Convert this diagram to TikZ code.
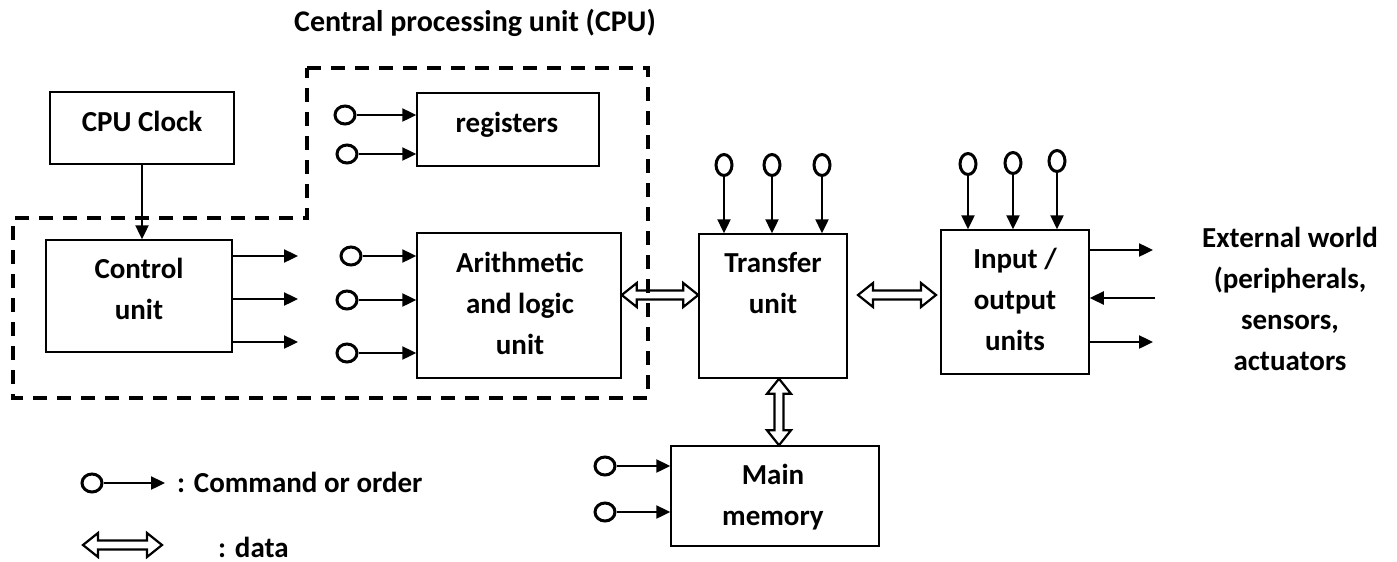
\documentclass[tikz,border=0pt]{standalone}
\usepackage{fontspec}
\setmainfont{Carlito}
\usetikzlibrary{arrows.meta,calc,shapes.geometric}

% hollow double-headed data arrow, horizontal: #1 left tip, #2 right tip (same height as #1)
\newcommand\hdata[2]{\draw[datalink] let \p1=#1, \p2=#2 in
  (\x1,\y1) -- (\x1+15pt,\y1+12pt) -- (\x1+15pt,\y1+4.5pt) -- (\x2-15pt,\y1+4.5pt)
  -- (\x2-15pt,\y1+12pt) -- (\x2,\y1) -- (\x2-15pt,\y1-12pt) -- (\x2-15pt,\y1-4.5pt)
  -- (\x1+15pt,\y1-4.5pt) -- (\x1+15pt,\y1-12pt) -- cycle;}
% same, vertical: #1 top tip, #2 bottom tip
\newcommand\vdata[2]{\draw[datalink] let \p1=#1, \p2=#2 in
  (\x1,\y1) -- (\x1+12pt,\y1-15pt) -- (\x1+4.5pt,\y1-15pt) -- (\x1+4.5pt,\y2+15pt)
  -- (\x1+12pt,\y2+15pt) -- (\x1,\y2) -- (\x1-12pt,\y2+15pt) -- (\x1-4.5pt,\y2+15pt)
  -- (\x1-4.5pt,\y1-15pt) -- (\x1-12pt,\y1-15pt) -- cycle;}

\tikzset{
  unitbox/.style={draw, line width=1.5pt, inner sep=0pt},
  % multi-line labels sit on the baseline of their last line
  lbl/.style={font=\bfseries\fontsize{29}{41}\selectfont, align=center, anchor=base, inner sep=0pt},
  ring/.style={draw, ellipse, line width=3pt, inner sep=0pt, minimum width=20pt, minimum height=18pt},
  vring/.style={ring, minimum width=16pt, minimum height=21pt},
  cmd/.style={line width=2.4pt, -{Triangle[length=14pt,width=13pt]}},
  datalink/.style={line width=2.2pt, line join=miter},
  cpuframe/.style={line width=3.5pt, dash pattern=on 14pt off 10pt},
}

\begin{document}
\begin{tikzpicture}[x=1pt,y=-1pt]
\useasboundingbox (0,0) rectangle (1397,562);

% CPU outline
\draw[cpuframe] (307,68) -- (648,68) -- (648,398) -- (13,398) -- (13,218) -- (307,218) -- cycle;
\node[lbl, font=\bfseries\fontsize{30}{41}\selectfont] (cputitle) at (475,31) {Central processing unit (CPU)};

% functional units
\node[unitbox, minimum width=184pt, minimum height=72pt]  (clock) at (142,128) {};
\node[unitbox, minimum width=186pt, minimum height=112pt] (ctrl)  at (139,296) {};
\node[unitbox, minimum width=182pt, minimum height=73pt]  (regs)  at (508,129.5) {};
\node[unitbox, minimum width=204pt, minimum height=145pt] (alu)   at (519,305.5) {};
\node[unitbox, minimum width=148pt, minimum height=144pt] (tu)    at (773,306) {};
\node[unitbox, minimum width=148pt, minimum height=144pt] (io)    at (1015,302) {};
\node[unitbox, minimum width=208pt, minimum height=100pt] (mem)   at (775,496) {};

\node[lbl] (clockT) at (142,131) {CPU Clock};
\node[lbl] (ctrlT)  at (139,319) {Control\\unit};
\node[lbl] (regsT)  at (507,132) {registers};
\node[lbl] (aluT)   at (520,354) {Arithmetic\\and logic\\unit};
\node[lbl] (tuT)    at (773,313) {Transfer\\unit};
\node[lbl] (ioT)    at (1015,350) {Input /\\output\\units};
\node[lbl] (memT)   at (773,525) {Main\\memory};
\node[lbl] (extT)   at (1290,370) {External world\\(peripherals,\\sensors,\\actuators};

% clock to control unit
\draw[cmd] (clock.south) -- (clock.south |- ctrl.north);

% control unit outputs
\coordinate (c1) at (298,256);
\coordinate (c2) at (298,299);
\coordinate (c3) at (298,342);
\foreach \c in {c1,c2,c3} \draw[cmd] (ctrl.east |- \c) -- (\c);

% command inputs of the registers
\node[ring] (rg1) at (345,115) {};
\node[ring] (rg2) at (347,154) {};
\foreach \r in {rg1,rg2} \draw[cmd] (\r) -- (\r -| regs.west);

% command inputs of the ALU
\node[ring] (ra1) at (351,256) {};
\node[ring] (ra2) at (347,300) {};
\node[ring] (ra3) at (347,353) {};
\foreach \r in {ra1,ra2,ra3} \draw[cmd] (\r) -- (\r -| alu.west);

% command inputs of the transfer unit
\node[vring] (rt1) at (724,165) {};
\node[vring] (rt2) at (772,165) {};
\node[vring] (rt3) at (822,165) {};
\foreach \r in {rt1,rt2,rt3} \draw[cmd] (\r) -- (\r |- tu.north);

% command inputs of the I/O units
\node[vring] (ri1) at (968,164) {};
\node[vring] (ri2) at (1013,163) {};
\node[vring] (ri3) at (1057,161) {};
\foreach \r in {ri1,ri2,ri3} \draw[cmd] (\r) -- (\r |- io.north);

% command inputs of the main memory
\node[ring] (rm1) at (605,466) {};
\node[ring] (rm2) at (605,512) {};
\foreach \r in {rm1,rm2} \draw[cmd] (\r) -- (\r -| mem.west);

% links with the external world
\coordinate (e1) at (1153,250);
\coordinate (e2) at (1155,298);
\coordinate (e3) at (1153,342);
\draw[cmd] (io.east |- e1) -- (e1);
\draw[cmd] (e2) -- (io.east |- e2);
\draw[cmd] (io.east |- e3) -- (e3);

% data paths
\coordinate (bus) at (0,295);
\coordinate (memx) at (779,0);
\hdata{(alu.east |- bus)}{(tu.west |- bus)}
\hdata{(858,295)}{(936,295)}
\vdata{(tu.south -| memx)}{(mem.north -| memx)}

% legend
\node[ring] (lr) at (92,483) {};
\coordinate (lrend) at (165,483);
\draw[cmd] (lr) -- (lrend);
\node[lbl, anchor=base west] (lcmd) at (177,492) {: Command or order};
\coordinate (ld1) at (83,545);
\coordinate (ld2) at (162,545);
\hdata{(ld1)}{(ld2)}
\node[lbl, anchor=base west] (ldata) at (218,557) {: data};
\end{tikzpicture}
\end{document}
